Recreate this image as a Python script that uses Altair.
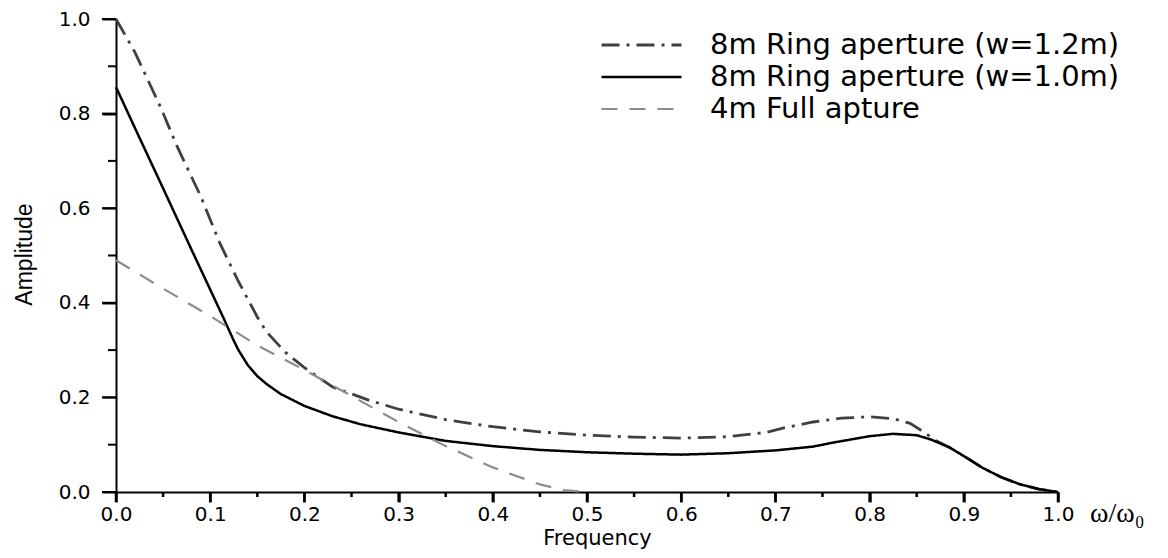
import altair as alt
import pandas as pd

series_names = ["8m Ring aperture (w=1.2m)", "8m Ring aperture (w=1.0m)", "4m Full apture"]
series_colors = ["#404040", "#000000", "#8c8c8c"]
series_dashes = [[18, 7, 3, 7], [1, 0], [16, 12]]
series_widths = [2.8, 2.2, 2.3]

ring12_x = [0.0, 0.02, 0.047, 0.065, 0.09, 0.11, 0.13, 0.15, 0.16, 0.18,
            0.2, 0.23, 0.27, 0.3, 0.35, 0.4, 0.45, 0.5, 0.55, 0.6,
            0.65, 0.69, 0.71, 0.74, 0.77, 0.8, 0.825, 0.843, 0.855, 0.87,
            0.885, 0.9, 0.92, 0.94, 0.96, 0.98, 1.0]
ring12_y = [1.0, 0.93, 0.815, 0.73, 0.625, 0.527, 0.445, 0.37, 0.338, 0.295,
            0.263, 0.222, 0.193, 0.175, 0.153, 0.138, 0.127, 0.12, 0.116, 0.114,
            0.117, 0.126, 0.136, 0.148, 0.156, 0.159, 0.155, 0.145, 0.13, 0.109,
            0.094, 0.076, 0.051, 0.031, 0.016, 0.006, 0.0]

ring10_x = [0.0, 0.02, 0.05, 0.08, 0.1, 0.115, 0.125, 0.13, 0.14, 0.15,
            0.16, 0.175, 0.2, 0.23, 0.26, 0.3, 0.35, 0.4, 0.45, 0.5,
            0.55, 0.6, 0.65, 0.7, 0.74, 0.76, 0.8, 0.825, 0.85, 0.865,
            0.885, 0.9, 0.92, 0.94, 0.96, 0.98, 1.0]
ring10_y = [0.856, 0.77, 0.642, 0.513, 0.428, 0.364, 0.32, 0.3, 0.268, 0.245,
            0.228, 0.207, 0.182, 0.16, 0.143, 0.126, 0.108, 0.097, 0.089, 0.084,
            0.081, 0.079, 0.082, 0.088, 0.096, 0.104, 0.118, 0.123, 0.12, 0.111,
            0.094, 0.076, 0.051, 0.031, 0.016, 0.006, 0.0]

full4_x = [0.0, 0.05, 0.1, 0.15, 0.2, 0.25, 0.3, 0.35, 0.4, 0.45, 0.475, 0.5]
full4_y = [0.49, 0.43, 0.372, 0.31, 0.258, 0.203, 0.148, 0.097, 0.052, 0.016, 0.004, 0.0]

x_major = [0.0, 0.1, 0.2, 0.3, 0.4, 0.5, 0.6, 0.7, 0.8, 0.9, 1.0]
x_minor = [0.05, 0.15, 0.25, 0.35, 0.45, 0.55, 0.65, 0.75, 0.85, 0.95]
y_major = [0.0, 0.2, 0.4, 0.6, 0.8, 1.0]
y_minor = [0.1, 0.3, 0.5, 0.7, 0.9]
unit_label = ["ω/ω₀"]

rows = []
for name, xs, ys in zip(series_names, [ring12_x, ring10_x, full4_x], [ring12_y, ring10_y, full4_y]):
    for a, b in zip(xs, ys):
        rows.append({"series": name, "freq": a, "amp": b})
df = pd.DataFrame(rows)

PLOT_W, PLOT_H = 942, 473
xscale = alt.Scale(domain=[0, 1], nice=False, zero=False)
yscale = alt.Scale(domain=[0, 1], nice=False, zero=False)

tick_font = "DejaVu Sans"

x_axis = alt.Axis(
    values=x_major, format=".1f", orient="bottom", ticks=True,
    tickSize=10, tickWidth=2.5, tickColor="black",
    domainWidth=2, domainColor="black", grid=False,
    labelFont=tick_font, labelFontSize=20, labelColor="black",
    labelPadding=2, labelOverlap=False, labelFlush=False,
    title="Frequency", titleFont="DejaVu Sans", titleFontSize=21,
    titleFontWeight="normal", titleColor="black",
    titleX=481, titleY=52, titleAlign="center", titleBaseline="alphabetic",
)
y_axis = alt.Axis(
    values=y_major, format=".1f", orient="left", ticks=True,
    tickSize=14, tickWidth=2, tickColor="black",
    domainWidth=2, domainColor="black", grid=False,
    labelFont=tick_font, labelFontSize=20, labelColor="black",
    labelPadding=12, labelOverlap=False, labelFlush=False,
    title="Amplitude", titleFont="Liberation Sans", titleFontSize=23,
    titleFontWeight="normal", titleColor="black",
    titleX=-92, titleY=235, titleAngle=270, titleAlign="center",
    titleBaseline="middle",
)

legend = alt.Legend(
    title=None, orient="none", legendX=484, legendY=10,
    symbolType="stroke", symbolSize=6400, symbolStrokeWidth=2.5,
    labelFont="DejaVu Sans", labelFontSize=29, labelColor="black",
    labelOffset=27, labelLimit=800, clipHeight=32, rowPadding=0,
    padding=0, symbolOffset=0,
)

lines = alt.Chart(df).mark_line().encode(
    x=alt.X("freq:Q", scale=xscale, axis=x_axis),
    y=alt.Y("amp:Q", scale=yscale, axis=y_axis),
    color=alt.Color("series:N", scale=alt.Scale(domain=series_names, range=series_colors), legend=legend),
    strokeDash=alt.StrokeDash("series:N", scale=alt.Scale(domain=series_names, range=series_dashes), legend=legend),
    strokeWidth=alt.StrokeWidth("series:N", scale=alt.Scale(domain=series_names, range=series_widths), legend=None),
)

# tick marks drawn as rules positioned through the shared scales
x_major_ticks = alt.Chart(pd.DataFrame({"freq": x_major})).mark_rule(color="black", strokeWidth=2.5).encode(
    x=alt.X("freq:Q", scale=xscale, axis=x_axis), y=alt.value(PLOT_H), y2=alt.value(PLOT_H + 10))
x_minor_ticks = alt.Chart(pd.DataFrame({"freq": x_minor})).mark_rule(color="black", strokeWidth=2.5).encode(
    x=alt.X("freq:Q", scale=xscale, axis=x_axis), y=alt.value(PLOT_H), y2=alt.value(PLOT_H + 5))
y_major_ticks = alt.Chart(pd.DataFrame({"amp": y_major})).mark_rule(color="black", strokeWidth=2).encode(
    y=alt.Y("amp:Q", scale=yscale, axis=y_axis), x=alt.value(0), x2=alt.value(-14))
y_minor_ticks = alt.Chart(pd.DataFrame({"amp": y_minor})).mark_rule(color="black", strokeWidth=2).encode(
    y=alt.Y("amp:Q", scale=yscale, axis=y_axis), x=alt.value(0), x2=alt.value(-8))

unit = alt.Chart(pd.DataFrame({"label": unit_label})).mark_text(
    align="left", baseline="alphabetic", dx=32, dy=30,
    font="Liberation Serif", fontSize=28, color="black",
).encode(
    x=alt.XDatum(1.0, type="quantitative", axis=x_axis),
    y=alt.YDatum(0.0, type="quantitative", axis=y_axis),
    text="label:N",
)

chart = alt.layer(lines, x_major_ticks, x_minor_ticks, y_major_ticks, y_minor_ticks, unit).properties(
    width=PLOT_W, height=PLOT_H,
    autosize=alt.AutoSizeParams(type="none"),
    padding={"left": 108, "top": 11, "right": 102, "bottom": 58},
    background="white",
).configure_view(stroke=None)

chart.save("out.html", embed_options={"renderer": "svg", "actions": False})
